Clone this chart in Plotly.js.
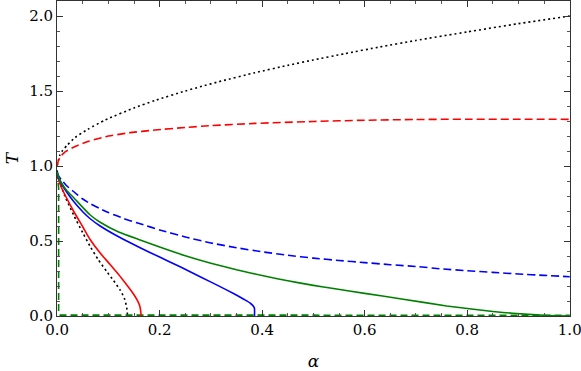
<!DOCTYPE html>
<html>
<head>
<meta charset="utf-8">
<script src="https://cdn.plot.ly/plotly-3.0.1.min.js"></script>
<style>html,body{margin:0;padding:0;background:#fff;}#chart{width:581px;height:371px;}</style>
</head>
<body>
<div id="chart"></div>
<script>
// Black dotted, upper branch
const blackUpperA = [0, 0.005, 0.01, 0.02, 0.035, 0.06, 0.094, 0.15, 0.191, 0.25, 0.279, 0.32, 0.386, 0.45, 0.5, 0.56, 0.63, 0.7, 0.8, 0.9, 1.0];
const blackUpperT = [1.0, 1.07, 1.10, 1.14, 1.19, 1.245, 1.307, 1.387, 1.437, 1.50, 1.528, 1.566, 1.622, 1.671, 1.707, 1.748, 1.794, 1.837, 1.894, 1.949, 2.0];
// Black dotted, lower branch
const blackLowerA = [0, 0.002, 0.006, 0.015, 0.032, 0.05, 0.064, 0.08, 0.097, 0.11, 0.123, 0.131, 0.135, 0.137, 0.137];
const blackLowerT = [0.97, 0.93, 0.885, 0.80, 0.675, 0.555, 0.467, 0.377, 0.296, 0.237, 0.173, 0.12, 0.07, 0.025, 0.0];
// Red dashed
const redDashA = [0, 0.002, 0.006, 0.015, 0.035, 0.06, 0.094, 0.14, 0.191, 0.25, 0.3, 0.386, 0.5, 0.6, 0.7, 0.8, 0.9, 1.0];
const redDashT = [1.0, 1.03, 1.06, 1.093, 1.13, 1.163, 1.195, 1.221, 1.24, 1.257, 1.269, 1.284, 1.297, 1.305, 1.31, 1.312, 1.312, 1.311];
// Red solid
const redSolidA = [0, 0.002, 0.008, 0.018, 0.032, 0.05, 0.064, 0.084, 0.103, 0.12, 0.136, 0.148, 0.156, 0.161, 0.163, 0.164];
const redSolidT = [0.96, 0.92, 0.86, 0.79, 0.70, 0.595, 0.512, 0.42, 0.345, 0.277, 0.207, 0.152, 0.108, 0.07, 0.035, 0.0];
// Blue solid
const blueSolidA = [0, 0.002, 0.008, 0.018, 0.032, 0.05, 0.064, 0.084, 0.12, 0.162, 0.2, 0.24, 0.279, 0.318, 0.345, 0.365, 0.377, 0.383, 0.385, 0.385];
const blueSolidT = [0.96, 0.93, 0.885, 0.83, 0.765, 0.695, 0.65, 0.60, 0.528, 0.455, 0.393, 0.328, 0.262, 0.196, 0.148, 0.11, 0.085, 0.065, 0.05, 0.0];
// Blue dashed
const blueDashA = [0, 0.002, 0.008, 0.018, 0.032, 0.05, 0.064, 0.084, 0.1, 0.13, 0.162, 0.2, 0.25, 0.3, 0.35, 0.4, 0.45, 0.5, 0.55, 0.6, 0.65, 0.7, 0.75, 0.8, 0.85, 0.9, 0.95, 1.0];
const blueDashT = [0.96, 0.94, 0.91, 0.87, 0.83, 0.78, 0.75, 0.715, 0.69, 0.65, 0.615, 0.574, 0.527, 0.487, 0.455, 0.428, 0.405, 0.386, 0.37, 0.356, 0.342, 0.33, 0.314, 0.302, 0.291, 0.28, 0.271, 0.262];
// Green solid
const greenSolidA = [0, 0.002, 0.008, 0.018, 0.032, 0.064, 0.084, 0.12, 0.162, 0.2, 0.25, 0.3, 0.35, 0.409, 0.45, 0.5, 0.539, 0.6, 0.669, 0.76, 0.85, 0.889, 0.95, 1.0];
const greenSolidT = [0.96, 0.935, 0.89, 0.84, 0.79, 0.675, 0.625, 0.56, 0.507, 0.46, 0.402, 0.352, 0.308, 0.263, 0.235, 0.204, 0.183, 0.151, 0.115, 0.067, 0.03, 0.018, 0.005, 0.0];
// Green dashed
const greenDashA = [0, 0.003, 0.003, 0.006, 1.0];
const greenDashT = [0.96, 0.85, 0.02, 0.006, 0.005];

const xTickVals = [0, 0.2, 0.4, 0.6, 0.8, 1.0];
const xTickText = ["0.0", "0.2", "0.4", "0.6", "0.8", "1.0"];
const yTickVals = [0, 0.5, 1.0, 1.5, 2.0];
const yTickText = ["0.0", "0.5", "1.0", "1.5", "2.0"];

const W = 1.6;
function tr(x, y, color, dash) {
  return {x: x, y: y, type: 'scatter', mode: 'lines', hoverinfo: 'skip',
          line: {color: color, width: W, dash: dash, shape: 'spline', smoothing: 0.5}};
}
const traces = [
  tr(greenDashA, greenDashT, '#008000', '7px,4px'),
  tr(blackUpperA, blackUpperT, '#000000', '2px,3px'),
  tr(blackLowerA, blackLowerT, '#000000', '2px,3px'),
  tr(redDashA, redDashT, '#ff0000', '8px,4px'),
  tr(redSolidA, redSolidT, '#ff0000', 'solid'),
  tr(blueSolidA, blueSolidT, '#0000ff', 'solid'),
  tr(blueDashA, blueDashT, '#0000ff', '8px,4px'),
  tr(greenSolidA, greenSolidT, '#008000', 'solid')
];
traces[0].line.shape = 'linear';

const fontFam = 'DejaVu Serif, serif';
const axisCommon = {
  showgrid: false, zeroline: false, showline: true, linecolor: '#333', linewidth: 1,
  mirror: 'allticks', ticks: 'inside', ticklen: 6, tickcolor: '#333', tickwidth: 1,
  ticklabeloverflow: 'allow',
  tickfont: {family: fontFam, size: 15, color: '#000'},
  minor: {ticks: 'inside', ticklen: 3, tickcolor: '#555', tickwidth: 1, showgrid: false}
};
const layout = {
  width: 581, height: 371,
  margin: {l: 57, r: 11, t: 1, b: 55},
  paper_bgcolor: '#fff', plot_bgcolor: '#fff',
  showlegend: false,
  xaxis: Object.assign({}, axisCommon, {
    range: [-0.0002, 1.0005], tickmode: 'array', tickvals: xTickVals, ticktext: xTickText,
    minor: Object.assign({}, axisCommon.minor, {dtick: 0.05, tick0: 0}),
    title: {text: '<i>α</i>', font: {family: fontFam, size: 17, color: '#000'}, standoff: 22}
  }),
  yaxis: Object.assign({}, axisCommon, {
    range: [0, 2.1], tickmode: 'array', tickvals: yTickVals, ticktext: yTickText,
    minor: Object.assign({}, axisCommon.minor, {dtick: 0.1, tick0: 0}),
    title: {text: '<i>T</i>', font: {family: fontFam, size: 17, color: '#000'}, standoff: 6}
  })
};
Plotly.newPlot('chart', traces, layout, {staticPlot: true, displayModeBar: false});
</script>
</body>
</html>
